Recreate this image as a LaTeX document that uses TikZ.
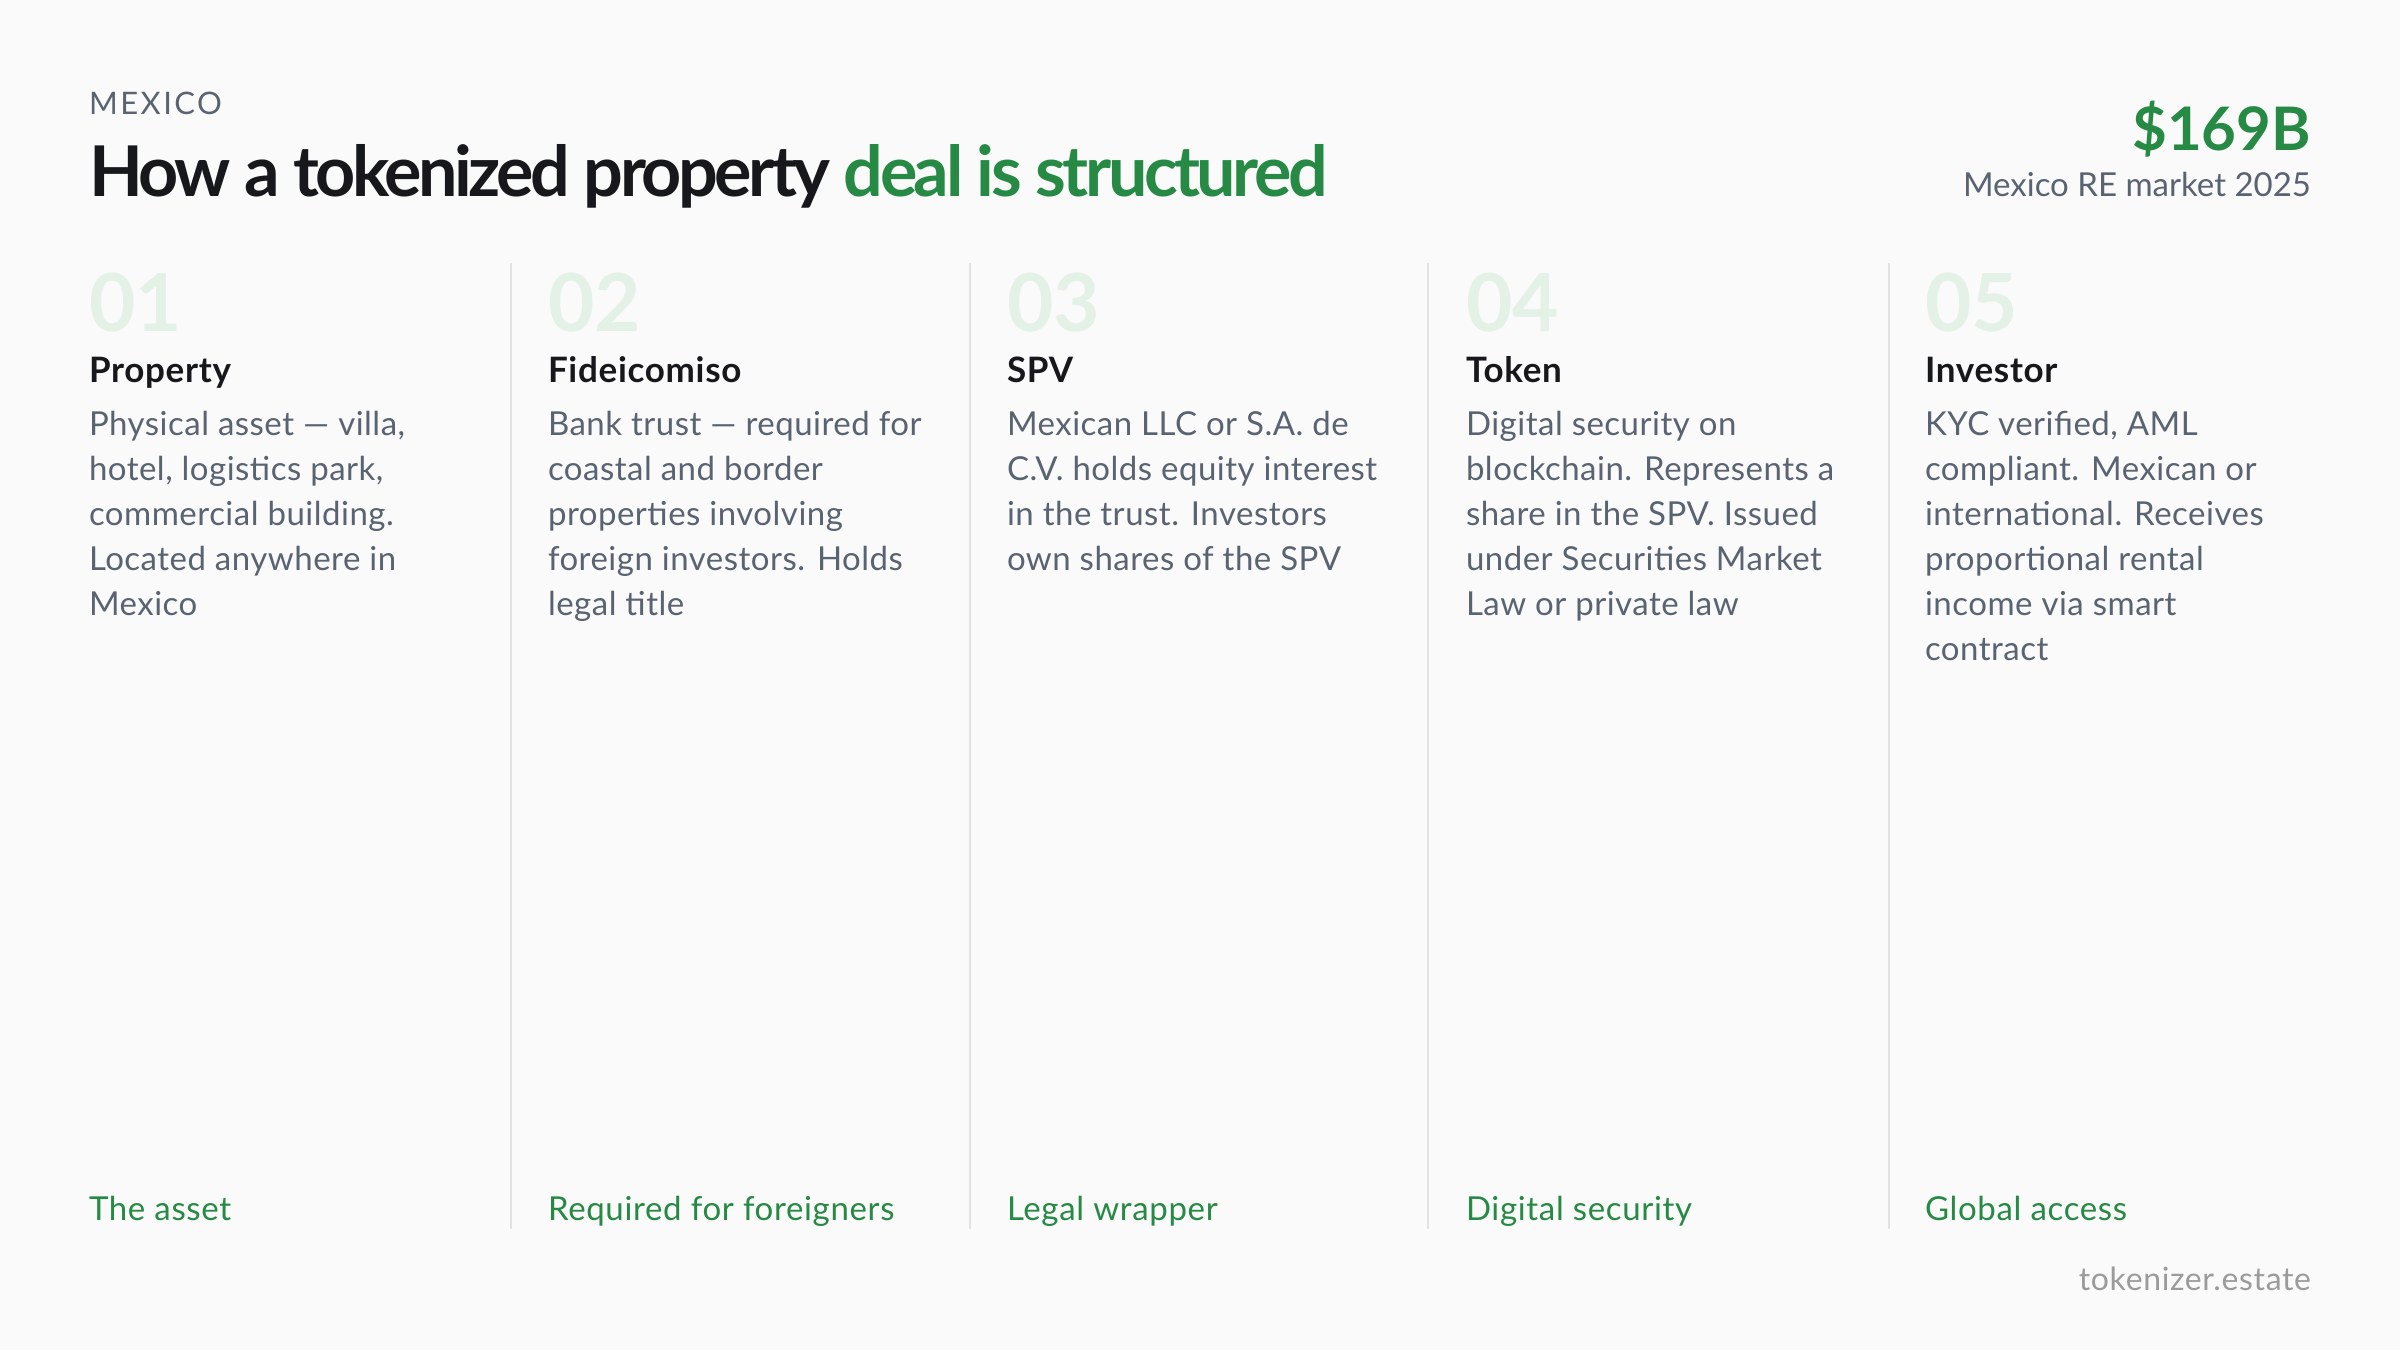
\documentclass[tikz,border=0pt]{standalone}
\usepackage{fontspec}
\setmainfont{Lato}
\definecolor{bgc}{HTML}{FAFAFA}
\definecolor{darkc}{HTML}{16181C}
\definecolor{bodyc}{HTML}{5A6372}
\definecolor{greenc}{HTML}{268A44}
\definecolor{numc}{HTML}{E3F1E6}
\definecolor{linec}{HTML}{E2E2E2}
\definecolor{brandc}{HTML}{9B9B9B}
\begin{document}
\begin{tikzpicture}[x=1pt,y=-1pt,
  txt/.style={inner sep=0pt, outer sep=0pt, anchor=base west},
  txtr/.style={inner sep=0pt, outer sep=0pt, anchor=base east},
  numst/.style={txt, text=numc, font=\fontsize{80}{80}\selectfont\bfseries},
  headst/.style={txt, text=darkc, font=\fontsize{35}{40}\selectfont\bfseries\addfontfeature{LetterSpace=2}},
  bodyst/.style={txt, text=bodyc, font=\fontsize{33}{45}\selectfont\addfontfeature{LetterSpace=1.5}},
  tagst/.style={txt, text=greenc, font=\fontsize{33}{40}\selectfont\addfontfeature{LetterSpace=2}},
  sepst/.style={draw=linec, line width=2pt}]
\useasboundingbox (0,0) rectangle (2400,1350);
\fill[bgc] (0,0) rectangle (2400,1350);

% header
\node[txt, text=bodyc, font=\fontsize{31}{36}\selectfont\addfontfeature{LetterSpace=8}] (kicker) at (89,114) {MEXICO};
\node[txt, font=\fontsize{70}{80}\selectfont\bfseries\addfontfeature{LetterSpace=-5}] (title) at (89,196)
  {\textcolor{darkc}{How a tokenized property} \textcolor{greenc}{deal is structured}};
\node[txtr, text=greenc, font=\fontsize{60}{70}\selectfont\bfseries] (big) at (2311,150) {\$169B};
\node[txtr, text=bodyc, font=\fontsize{33}{40}\selectfont] (sub) at (2311,196) {Mexico RE market 2025};

% separators
\foreach \x in {511,970,1428,1889} {
  \draw[sepst] (\x,263) -- (\x,1229);
}

% column 1
\node[numst] (n1) at (89,331) {01};
\node[headst] (h1) at (89,382) {Property};
\node[bodyst] (b1) at (89,435) {\parbox[t]{420pt}{\raggedright Physical asset — villa,\\hotel, logistics park,\\commercial building.\\Located anywhere in\\Mexico}};
\node[tagst] (t1) at (89,1220) {The asset};

% column 2
\node[numst] (n2) at (548,331) {02};
\node[headst] (h2) at (548,382) {Fideicomiso};
\node[bodyst] (b2) at (548,435) {\parbox[t]{420pt}{\raggedright Bank trust — required for\\coastal and border\\properties involving\\foreign investors. Holds\\legal title}};
\node[tagst] (t2) at (548,1220) {Required for foreigners};

% column 3
\node[numst] (n3) at (1007,331) {03};
\node[headst] (h3) at (1007,382) {SPV};
\node[bodyst] (b3) at (1007,435) {\parbox[t]{420pt}{\raggedright Mexican LLC or S.A. de\\C.V. holds equity interest\\in the trust. Investors\\own shares of the SPV}};
\node[tagst] (t3) at (1007,1220) {Legal wrapper};

% column 4
\node[numst] (n4) at (1466,331) {04};
\node[headst] (h4) at (1466,382) {Token};
\node[bodyst] (b4) at (1466,435) {\parbox[t]{420pt}{\raggedright Digital security on\\blockchain. Represents a\\share in the SPV. Issued\\under Securities Market\\Law or private law}};
\node[tagst] (t4) at (1466,1220) {Digital security};

% column 5
\node[numst] (n5) at (1925,331) {05};
\node[headst] (h5) at (1925,382) {Investor};
\node[bodyst] (b5) at (1925,435) {\parbox[t]{420pt}{\raggedright KYC verified, AML\\compliant. Mexican or\\international. Receives\\proportional rental\\income via smart\\contract}};
\node[tagst] (t5) at (1925,1220) {Global access};

% brand
\node[txtr, text=brandc, font=\fontsize{32}{36}\selectfont\addfontfeature{LetterSpace=2}] (brand) at (2311,1290) {tokenizer.estate};
\end{tikzpicture}
\end{document}
